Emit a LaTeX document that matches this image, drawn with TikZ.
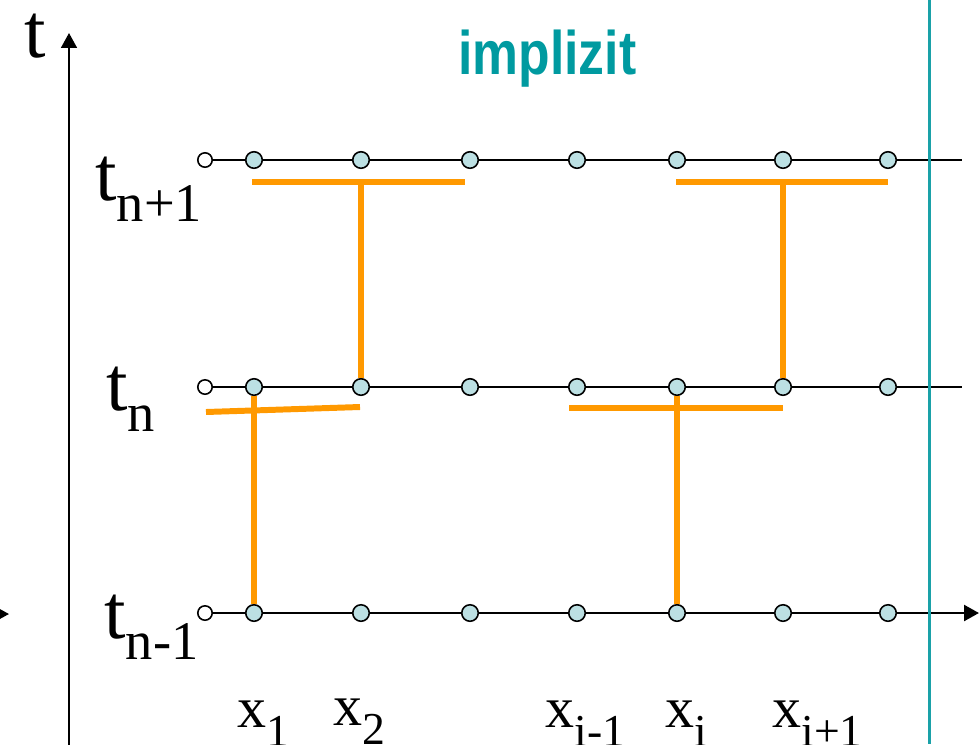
\documentclass[tikz,border=0pt]{standalone}
\usepackage{fontspec}
\setmainfont{Liberation Serif}
\newfontfamily\headfont{Liberation Sans}
\usetikzlibrary{arrows.meta,positioning,calc}
\definecolor{gridc}{HTML}{BCE0E3}
\definecolor{stenc}{HTML}{FF9900}
\definecolor{tealc}{HTML}{1AA1A8}
\definecolor{headc}{HTML}{009AA0}
\newcommand{\tlab}[1]{\fontsize{44}{44}\selectfont t\raisebox{-12pt}{\fontsize{31}{31}\selectfont #1}}
\newcommand{\xlab}[1]{\fontsize{33}{33}\selectfont x\raisebox{-11pt}{\fontsize{26}{26}\selectfont #1}}

\begin{document}
\begin{tikzpicture}[x=0.02cm,y=-0.02cm,
      pt/.style={circle,draw,line width=0.9pt,fill=gridc,inner sep=0pt,minimum size=9.4pt},
      opt/.style={circle,draw,line width=0.9pt,fill=white,inner sep=0pt,minimum size=8.2pt},
      gridline/.style={line width=1.5pt},
      stencil/.style={line width=3.4pt,stenc},
      lab/.style={anchor=base west,inner sep=0pt},
      >={Triangle[length=8.5pt,width=9pt]}]
    \useasboundingbox (0,0) rectangle (979,744);
    % grid points
    \foreach \r/\y in {up/160,mid/387,low/613}{
      \node[opt] (\r0) at (205,\y) {};
      \foreach \x [count=\i] in {254,361,470,577,677,783,888}
        \node[pt] (\r\i) at (\x,\y) {};
    }
    \coordinate (up8) at (962,160);
    \coordinate (mid8) at (962,387);
    \coordinate (low8) at (979,613);
    \foreach \r in {up,mid}
      \draw[gridline] (\r0) -- (\r1) -- (\r2) -- (\r3) -- (\r4) -- (\r5) -- (\r6) -- (\r7) -- (\r8);
    \draw[gridline] (low0) -- (low1) -- (low2) -- (low3) -- (low4) -- (low5) -- (low6) -- (low7);
    \draw[gridline,->] (low7) -- (low8);
    % axes
    \coordinate (ax0) at (69,760);
    \coordinate (ax1) at (69,33);
    \draw[->,line width=1.2pt] (ax0) -- (ax1);
    \coordinate (edge0) at (-40,614);
    \coordinate (edge1) at (9,614);
    \draw[->,line width=1.2pt] (edge0) -- (edge1);
    \coordinate (wall0) at (929,0);
    \coordinate (wall1) at (929,744);
    \draw[tealc,line width=1.7pt] (wall0) -- (wall1);
    % stencils
    \coordinate (barA1) at (252,182);
    \coordinate (barA2) at (465,182);
    \coordinate (barB1) at (676,182);
    \coordinate (barB2) at (888,182);
    \coordinate (barC1) at (206,412);
    \coordinate (barC2) at (360,407);
    \coordinate (barD1) at (569,408);
    \coordinate (barD2) at (783,408);
    \draw[stencil] (barA1) -- (barA2);
    \draw[stencil] (mid2) -- (mid2 |- barA1);
    \draw[stencil] (barB1) -- (barB2);
    \draw[stencil] (mid6) -- (mid6 |- barB1);
    \draw[stencil] (barC1) -- (barC2);
    \draw[stencil] (mid1) -- (low1);
    \draw[stencil] (barD1) -- (barD2);
    \draw[stencil] (mid5) -- (low5);
    % labels
    \node[lab] (taxis) at (24,57) {\fontsize{44}{44}\selectfont t};
    \node[lab] (tup) at (95,200) {\tlab{n+1}};
    \node[lab] (tmid) at (106,410) {\tlab{n}};
    \node[lab] (tlow) at (104,638) {\tlab{n-1}};
    \node[lab] (x1) at (237,727) {\xlab{1}};
    \node[lab] (x2) at (333,725) {\xlab{2}};
    \node[lab] (xim) at (545,727) {\xlab{i-1}};
    \node[lab] (xi) at (665,727) {\xlab{i}};
    \node[lab] (xip) at (772,727) {\xlab{i+1}};
    \node[lab,text=headc] (head) at (458,74) {\scalebox{0.84}[1]{\headfont\bfseries\fontsize{35}{35}\selectfont implizit}};
  \end{tikzpicture}
\end{document}
